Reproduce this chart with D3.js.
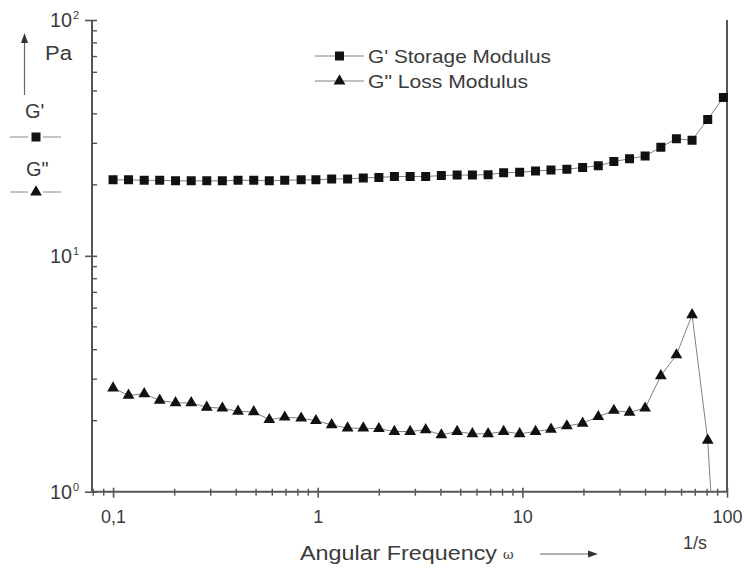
<!DOCTYPE html>
<html>
<head>
<meta charset="utf-8">
<script src="https://cdn.jsdelivr.net/npm/d3@7"></script>
<style>
  html, body { margin: 0; padding: 0; background: #fff; }
  svg { display: block; font-family: "Liberation Sans", Arial, sans-serif; }
</style>
</head>
<body>
<svg id="chart" width="744" height="571"></svg>
<script>
// Angular frequency sweep (1/s)
const frequency = [
  0.1, 0.119, 0.142, 0.169, 0.202, 0.241, 0.287, 0.342, 0.408, 0.487,
  0.58, 0.69, 0.83, 0.98, 1.17, 1.4, 1.67, 1.99, 2.37, 2.83,
  3.37, 4.02, 4.8, 5.7, 6.8, 8.1, 9.7, 11.6, 13.8, 16.5,
  19.7, 23.5, 28, 33.4, 39.8, 47.5, 56.6, 67.5, 80.5, 96
];
// G' storage modulus (Pa)
const storageModulus = [
  21.0, 21.0, 20.9, 20.9, 20.8, 20.8, 20.8, 20.8, 20.9, 20.9,
  20.8, 20.9, 21.0, 21.0, 21.2, 21.2, 21.4, 21.5, 21.7, 21.7,
  21.7, 21.9, 22.0, 22.0, 22.1, 22.5, 22.6, 22.9, 23.1, 23.3,
  23.7, 24.1, 25.1, 25.8, 26.5, 28.9, 31.4, 30.9, 37.9, 46.9
];
// G" loss modulus (Pa)
const lossModulus = [
  2.75, 2.56, 2.60, 2.44, 2.38, 2.38, 2.28, 2.26, 2.19, 2.18,
  2.02, 2.07, 2.05, 2.00, 1.92, 1.86, 1.86, 1.85, 1.80, 1.80,
  1.83, 1.74, 1.80, 1.76, 1.76, 1.80, 1.76, 1.80, 1.84, 1.90,
  1.95, 2.08, 2.21, 2.17, 2.26, 3.10, 3.80, 5.62, 1.65, 0.13
];
const xTickValues = [0.1, 1, 10, 100];
const xTickLabels = ["0,1", "1", "10", "100"];
const yTickValues = [1, 10, 100];
const yTickExponents = ["0", "1", "2"];
const seriesNames = ["G' Storage Modulus", "G\" Loss Modulus"];

const ink = "#3b3b3b";
const axisColor = "#555";
const lineColor = "#808080";

const svg = d3.select("#chart");
const plotLeft = 92, plotRight = 727, plotTop = 20, plotBottom = 491.7;

const x = d3.scaleLog().domain([0.0789, 100]).range([plotLeft, plotRight]);
const y = d3.scaleLog().domain([1, 100]).range([plotBottom, plotTop]);

// clip region for the plotted series
svg.append("defs").append("clipPath").attr("id", "plotClip")
  .append("rect").attr("x", plotLeft).attr("y", plotTop - 10)
  .attr("width", plotRight - plotLeft + 10).attr("height", plotBottom - plotTop + 10);

// minor ticks (2..9 in each decade)
const xMinor = [];
[0.01, 0.1, 1, 10].forEach(d => { for (let k = 2; k <= 9; k++) { const v = d * k; if (v > 0.0789 && v < 100) xMinor.push(v); } });
const yMinor = [];
[1, 10].forEach(d => { for (let k = 2; k <= 9; k++) yMinor.push(d * k); });

// X axis
const xAxis = svg.append("g").attr("transform", `translate(0,${plotBottom})`)
  .call(d3.axisBottom(x).tickValues(xTickValues).tickFormat((d, i) => xTickLabels[i]).tickSize(6).tickPadding(13));
xAxis.select(".domain").remove();
xAxis.selectAll(".tick line").attr("y1", -4).attr("y2", 6).attr("stroke", axisColor).attr("stroke-width", 1.6);
xAxis.selectAll(".tick text").attr("fill", ink).attr("font-size", 18).attr("font-family", "Liberation Sans, Arial, sans-serif");
svg.append("g").selectAll("line").data(xMinor).join("line")
  .attr("x1", d => x(d)).attr("x2", d => x(d))
  .attr("y1", plotBottom - 3).attr("y2", plotBottom + 4)
  .attr("stroke", axisColor).attr("stroke-width", 1.4);

// Y axis
const yAxis = svg.append("g").attr("transform", `translate(${plotLeft},0)`)
  .call(d3.axisLeft(y).tickValues(yTickValues).tickFormat("").tickSize(7));
yAxis.select(".domain").remove();
yAxis.selectAll(".tick line").attr("x1", -7).attr("x2", 5).attr("stroke", axisColor).attr("stroke-width", 1.6);
svg.append("g").selectAll("line").data(yMinor).join("line")
  .attr("x1", plotLeft - 1).attr("x2", plotLeft + 5)
  .attr("y1", d => y(d)).attr("y2", d => y(d))
  .attr("stroke", axisColor).attr("stroke-width", 1.4);

// power-of-ten labels
svg.append("g").selectAll("text").data(yTickValues).join("text")
  .attr("x", 72).attr("y", d => y(d) + 7)
  .attr("text-anchor", "end").attr("fill", ink).attr("font-size", 20)
  .attr("textLength", 22).attr("lengthAdjust", "spacingAndGlyphs").text("10");
svg.append("g").selectAll("text").data(yTickValues).join("text")
  .attr("x", 73).attr("y", d => y(d) - 1)
  .attr("fill", ink).attr("font-size", 11)
  .text((d, i) => yTickExponents[i]);

// frame lines
svg.append("line").attr("x1", plotLeft).attr("x2", plotLeft).attr("y1", plotTop).attr("y2", plotBottom)
  .attr("stroke", axisColor).attr("stroke-width", 2);
svg.append("line").attr("x1", plotLeft).attr("x2", plotRight).attr("y1", plotBottom).attr("y2", plotBottom)
  .attr("stroke", axisColor).attr("stroke-width", 2);
svg.append("line").attr("x1", plotRight).attr("x2", plotRight).attr("y1", plotTop).attr("y2", plotBottom)
  .attr("stroke", axisColor).attr("stroke-width", 2);

// series
const plot = svg.append("g").attr("clip-path", "url(#plotClip)");
const lineGen = d3.line().x(d => x(d[0])).y(d => y(d[1]));
const gStore = d3.zip(frequency, storageModulus);
const gLoss = d3.zip(frequency, lossModulus);

plot.append("path").datum(gStore).attr("d", lineGen)
  .attr("fill", "none").attr("stroke", lineColor).attr("stroke-width", 1);
plot.append("path").datum(gLoss).attr("d", lineGen)
  .attr("fill", "none").attr("stroke", lineColor).attr("stroke-width", 1);

const square = d3.symbol().type(d3.symbolSquare).size(81);
const triangle = d3.symbol().type(d3.symbolTriangle).size(60);

plot.append("g").selectAll("path").data(gStore).join("path")
  .attr("d", square).attr("transform", d => `translate(${x(d[0])},${y(d[1])})`)
  .attr("fill", "#111");
plot.append("g").selectAll("path").data(gLoss.filter(d => d[1] >= 1)).join("path")
  .attr("d", triangle).attr("transform", d => `translate(${x(d[0])},${y(d[1])})`)
  .attr("fill", "#111");

// legend
const legend = svg.append("g");
const legendWidths = [183, 160];
[[56, square], [81, triangle]].forEach(([ly, sym], i) => {
  legend.append("line").attr("x1", 315).attr("x2", 364).attr("y1", ly).attr("y2", ly)
    .attr("stroke", lineColor).attr("stroke-width", 1);
  legend.append("path").attr("d", sym).attr("transform", `translate(339.5,${ly})`).attr("fill", "#111");
  legend.append("text").attr("x", 368).attr("y", ly + 7)
    .attr("fill", ink).attr("font-size", 19)
    .attr("textLength", legendWidths[i]).attr("lengthAdjust", "spacingAndGlyphs")
    .text(seriesNames[i]);
});

// y-axis title with arrow and series keys
svg.append("line").attr("x1", 24.5).attr("x2", 24.5).attr("y1", 95).attr("y2", 40)
  .attr("stroke", "#666").attr("stroke-width", 1.2);
svg.append("path").attr("d", "M24.5,33 L21,43 L28,43 Z").attr("fill", "#333");
svg.append("text").attr("x", 45).attr("y", 60).attr("fill", ink).attr("font-size", 20)
  .attr("textLength", 27).attr("lengthAdjust", "spacingAndGlyphs").text("Pa");
svg.append("text").attr("x", 25).attr("y", 118).attr("fill", ink).attr("font-size", 20).text("G'");
svg.append("text").attr("x", 26).attr("y", 176).attr("fill", ink).attr("font-size", 20).text("G\"");
[[137, square], [192, triangle]].forEach(([ky, sym]) => {
  svg.append("line").attr("x1", 10).attr("x2", 28).attr("y1", ky).attr("y2", ky).attr("stroke", "#888").attr("stroke-width", 1);
  svg.append("line").attr("x1", 43).attr("x2", 61).attr("y1", ky).attr("y2", ky).attr("stroke", "#888").attr("stroke-width", 1);
  svg.append("path").attr("d", sym).attr("transform", `translate(36,${ky})`).attr("fill", "#111");
});

// x-axis title, unit and arrow
svg.append("text").attr("x", 695).attr("y", 549).attr("text-anchor", "middle")
  .attr("fill", ink).attr("font-size", 18).text("1/s");
svg.append("text").attr("x", 300).attr("y", 560).attr("fill", ink).attr("font-size", 20)
  .attr("textLength", 197).attr("lengthAdjust", "spacingAndGlyphs").text("Angular Frequency");
svg.append("text").attr("x", 503).attr("y", 559).attr("fill", ink).attr("font-size", 13)
  .attr("font-family", "DejaVu Serif, serif").text("ω");
svg.append("line").attr("x1", 540).attr("x2", 590).attr("y1", 554).attr("y2", 554)
  .attr("stroke", "#666").attr("stroke-width", 1.2);
svg.append("path").attr("d", "M598,554 L588,550.5 L588,557.5 Z").attr("fill", "#333");
</script>
</body>
</html>
